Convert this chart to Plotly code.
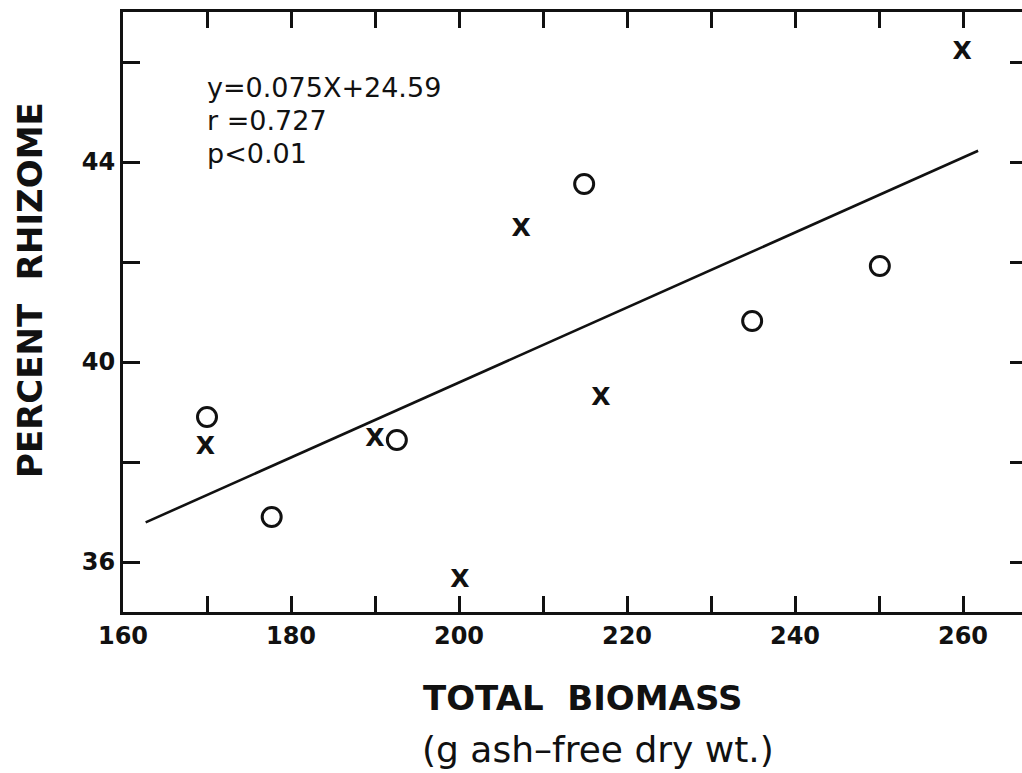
import plotly.graph_objects as go

# Data
circle_x = [170.0, 177.7, 192.6, 214.9, 234.9, 250.1]
circle_y = [38.9, 36.9, 38.44, 43.56, 40.82, 41.92]
cross_x = [169.8, 190.0, 200.1, 207.4, 216.9, 259.9]
cross_y = [38.28, 38.44, 35.62, 42.64, 39.26, 46.18]
slope = 0.075
intercept = 24.59
fit_x = [162.7, 261.8]
fit_y = [slope * v + intercept for v in fit_x]
x_tickvals = [160, 170, 180, 190, 200, 210, 220, 230, 240, 250, 260]
x_ticktext = ["160", "", "180", "", "200", "", "220", "", "240", "", "260"]
y_tickvals = [36, 38, 40, 42, 44, 46]
y_ticktext = ["36", "", "40", "", "44", ""]
stats_lines = ["y=0.075X+24.59", "r =0.727", "p<0.01"]

FONT = "DejaVu Sans"
BLACK = "#111111"

# plot-area geometry in pixels (for converting annotation positions)
L, T, W, H = 123, 12, 899, 600


def px(xp):
    return (xp - L) / W


def py(yp):
    return (T + H - yp) / H


fig = go.Figure()
fig.add_trace(go.Scatter(x=fit_x, y=fit_y, mode="lines",
                         line=dict(color=BLACK, width=2.6), showlegend=False))
fig.add_trace(go.Scatter(x=circle_x, y=circle_y, mode="markers",
                         marker=dict(symbol="circle-open", size=19, color=BLACK,
                                     line=dict(width=3, color=BLACK)),
                         showlegend=False))
fig.add_trace(go.Scatter(x=cross_x, y=cross_y, mode="text", text=["X"] * len(cross_x),
                         textposition="middle center",
                         textfont=dict(family=FONT, size=25, color=BLACK, weight=700),
                         showlegend=False))
# invisible trace for right-side ticks
fig.add_trace(go.Scatter(x=[160], y=[40], mode="markers", marker=dict(opacity=0),
                         yaxis="y2", showlegend=False, hoverinfo="skip"))

x_range = [160, 160 + W / 8.4]
y_range = [35, 47]

fig.update_layout(
    width=1022, height=773,
    margin=dict(l=L, r=1022 - L - W, t=T, b=773 - T - H),
    paper_bgcolor="white", plot_bgcolor="white",
    font=dict(family=FONT, color=BLACK),
    xaxis=dict(range=x_range, tickvals=x_tickvals, ticktext=x_ticktext,
               ticks="inside", ticklen=16, tickwidth=2.5, tickcolor=BLACK,
               showline=True, linewidth=3, linecolor=BLACK, mirror="ticks",
               showgrid=False, zeroline=False,
               tickfont=dict(family=FONT, size=24, color=BLACK, weight=700)),
    yaxis=dict(range=y_range, tickvals=y_tickvals, ticktext=y_ticktext,
               ticks="inside", ticklen=17, tickwidth=2.5, tickcolor=BLACK,
               showline=True, linewidth=3, linecolor=BLACK,
               showgrid=False, zeroline=False,
               tickfont=dict(family=FONT, size=24, color=BLACK, weight=700)),
    yaxis2=dict(range=y_range, tickvals=y_tickvals, overlaying="y", side="right",
                ticks="inside", ticklen=12, tickwidth=2.5, tickcolor=BLACK,
                showline=False, showgrid=False, zeroline=False, showticklabels=False),
)

fig.add_annotation(x=px(582), y=py(698), xref="paper", yref="paper",
                   text="TOTAL  BIOMASS", showarrow=False, xanchor="center", yanchor="middle",
                   font=dict(family=FONT, size=34, color=BLACK, weight=700))
fig.add_annotation(x=px(598), y=py(749), xref="paper", yref="paper",
                   text="(g ash\u2013free dry wt.)", showarrow=False, xanchor="center",
                   yanchor="middle",
                   font=dict(family=FONT, size=36, color=BLACK))
fig.add_annotation(x=px(30), y=py(290), xref="paper", yref="paper",
                   text="PERCENT  RHIZOME", showarrow=False, textangle=-90,
                   xanchor="center", yanchor="middle",
                   font=dict(family=FONT, size=34, color=BLACK, weight=700))
for line, yc in zip(stats_lines, [87, 120, 153]):
    fig.add_annotation(x=px(205), y=py(yc), xref="paper", yref="paper",
                       text=line, showarrow=False, xanchor="left", yanchor="middle",
                       font=dict(family=FONT, size=27, color=BLACK))

fig.write_html("out.html")
